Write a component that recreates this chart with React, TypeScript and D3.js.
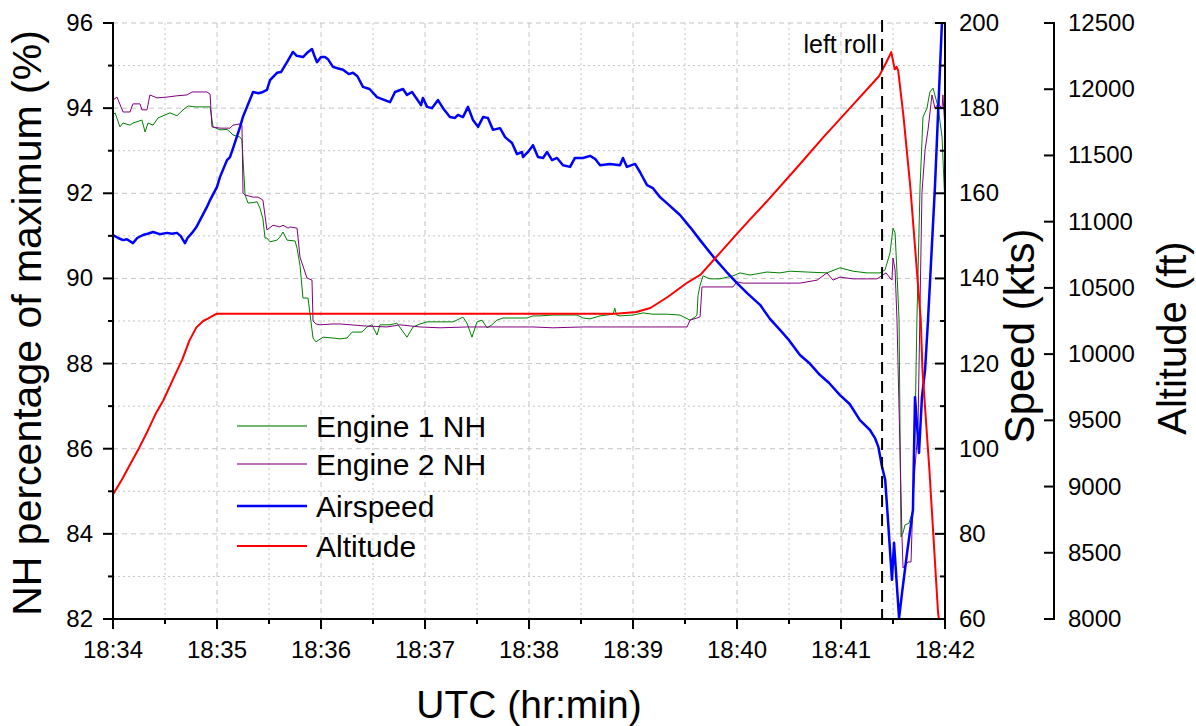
import React from "react";
import * as d3 from "d3";

// Time is in seconds after 18:34:00 UTC
const engine1NH: [number, number][] = [
  [0, 93.84], [1.2, 93.89], [4, 93.56], [5.8, 93.65], [9.8, 93.6], [11.5, 93.65], [16.7, 93.72],
  [18.5, 93.44], [20.2, 93.65], [23.1, 93.6], [26, 93.77], [30, 93.84], [32.9, 93.89], [36.9, 93.82],
  [40.4, 93.96], [43.3, 94.05], [47.3, 94.03], [50.2, 94.03], [54.2, 94.03], [56, 94.03], [57.7, 93.56],
  [61.7, 93.49], [65.8, 93.5], [67.5, 93.44], [69.2, 93.37], [73.3, 93.32], [74.4, 93.25], [76.2, 91.96],
  [77.9, 91.77], [80.8, 91.78], [83.1, 91.8], [84.8, 91.65], [86.5, 91.4], [87.7, 90.95], [88.8, 90.95],
  [90.6, 90.86], [94.6, 90.9], [96.3, 90.97], [98.1, 91.09], [100.4, 90.9], [105, 90.88], [106.2, 90.71],
  [107.9, 90.3], [109.6, 89.54], [112.5, 89.54], [115.4, 88.6], [117.1, 88.51], [121.2, 88.62],
  [126.9, 88.6], [131, 88.58], [135, 88.6], [137.9, 88.74], [143.6, 88.74], [146.5, 88.86], [149.4, 88.91],
  [152.3, 88.67], [154, 88.91], [159.8, 88.91], [163.8, 88.95], [169.6, 88.62], [173.1, 88.86],
  [177.1, 88.93], [181.2, 88.98], [188.7, 88.98], [196.2, 88.98], [201.9, 89.09], [204.2, 88.95],
  [207.1, 88.62], [210, 88.98], [212.9, 89.02], [215.8, 88.84], [218.6, 88.91], [221.5, 89.02],
  [225, 89.07], [230.8, 89.07], [238.8, 89.07], [242.3, 89.12], [246.3, 89.12], [253.8, 89.14],
  [261.9, 89.14], [267.7, 89.14], [271.2, 89.07], [275.2, 89.05], [281, 89.12], [288.5, 89.16],
  [289.5, 89.3], [290.5, 89.14], [292.5, 89.12], [300, 89.14], [305.8, 89.19], [311.5, 89.16], [319.6, 89.16],
  [327.1, 89.14], [332.9, 89.02], [335.8, 89.09], [336.9, 89.14], [337.5, 89.6], [338.7, 89.84],
  [340.4, 90.06], [344.4, 89.99], [350.2, 89.99], [357.7, 90.06], [361.7, 90.13], [367.5, 90.08],
  [377.3, 90.15], [384.8, 90.13], [390.6, 90.17], [400.4, 90.15], [411.9, 90.13], [419.4, 90.25],
  [426.9, 90.17], [435, 90.13], [442.5, 90.13], [445.4, 90.2], [448.3, 90.6], [450, 91.18],
  [451.2, 91.07], [452.3, 90.13], [453.5, 89.02], [454.6, 83.93], [455.8, 84.02], [456.9, 84.21],
  [459.2, 84.25], [461.5, 84.56], [462.7, 86.44], [463.8, 89.02], [465.6, 92.15], [467.3, 93.79],
  [469.6, 94.0], [471.3, 94.38], [473.1, 94.47], [476, 94.03], [478.3, 93.32], [480, 91.7],
];

const engine2NH: [number, number][] = [
  [0, 94.19], [2.3, 94.26], [5.8, 93.91], [9.8, 93.91], [11.5, 94.1], [15.6, 94.1], [16.7, 93.96],
  [19.6, 93.96], [21.3, 94.31], [25.4, 94.24], [31.2, 94.26], [36.9, 94.29], [42.7, 94.31],
  [45.6, 94.38], [50.2, 94.38], [54.2, 94.38], [56, 94.33], [57.1, 93.56], [61.7, 93.53], [67.5, 93.53],
  [69.2, 93.6], [73.3, 93.63], [74.4, 93.6], [75, 92.01], [76.2, 91.96], [80.8, 91.91], [83.7, 91.91],
  [86.5, 91.84], [88.8, 91.14], [92.3, 91.25], [96.3, 91.21], [98.1, 91.25], [101, 91.18],
  [102.1, 91.21], [106.2, 91.18], [107.9, 90.5], [111.9, 90.01], [114.8, 89.96], [115.4, 89.0],
  [117.1, 88.93], [119.4, 88.91], [126.9, 88.93], [131, 88.93], [146.5, 88.88], [158.1, 88.86],
  [165.6, 88.91], [177.1, 88.86], [188.7, 88.84], [204.2, 88.86], [215.8, 88.86], [230.8, 88.86],
  [242.3, 88.86], [253.8, 88.84], [271.2, 88.86], [290.8, 88.86], [300, 88.86], [319.6, 88.86],
  [331.2, 88.86], [332.9, 89.02], [336.9, 89.07], [338.7, 89.1], [339.8, 89.8], [342.7, 89.8],
  [357.7, 89.8], [360, 89.92], [363.5, 89.89], [377.3, 89.89], [396.3, 89.89], [406.2, 89.96],
  [411.9, 90.13], [415.4, 89.96], [419.4, 90.03], [426.9, 89.99], [440.8, 89.99], [446, 90.13],
  [448.3, 90.01], [449.4, 89.96], [450, 90.48], [451.2, 90.2], [452.3, 89.02], [454.6, 85.0],
  [455.2, 83.9], [455.8, 83.2], [458.7, 83.34], [460.4, 83.34], [461.5, 84.79], [462.7, 85.57],
  [464.4, 86.44], [466.7, 92.01], [468.5, 93.02], [470.2, 93.49], [472.5, 94.31], [474.2, 94.0],
  [476, 94.1], [478.3, 94.0], [478.8, 94.31], [480, 93.5],
];

const airspeed: [number, number][] = [
  [0, 150.2], [3, 149.5], [5.8, 149.0], [8, 149.2], [11.5, 148.3], [14, 149.5], [17.3, 150.2],
  [20, 150.5], [23.1, 150.9], [27, 150.4], [31.2, 150.7], [34, 150.5], [36.9, 150.7], [39, 150.0],
  [41.5, 148.3], [43, 149.5], [45.6, 150.7], [48, 152], [50.2, 153.7], [54.2, 156.8], [56, 158.4],
  [60, 161.5], [61.7, 163.8], [65.8, 167.8], [67.5, 168.5], [70, 171.5], [73.3, 175.6], [75, 178],
  [77.3, 180.3], [80.8, 183.8], [84, 183.5], [86.5, 183.8], [88.8, 184.3], [90.6, 186.6],
  [94.6, 188.3], [97, 188.5], [100.4, 190.8], [103.8, 193.2], [106, 192.3], [109.6, 192.0],
  [112, 193.0], [114.8, 193.9], [116, 192.5], [117.7, 190.8], [120, 192], [122.3, 192.0],
  [124, 191.5], [126.9, 189.7], [130, 189.3], [132.7, 189.0], [136, 188.0], [138.5, 188.3],
  [141, 187.5], [144.2, 185.0], [148, 184.5], [152.3, 182.6], [156, 182.0], [159.8, 181.4],
  [162.7, 183.8], [167.3, 184.5], [169.6, 183.1], [172.5, 183.8], [175.4, 182.1], [177.7, 180.7],
  [178.8, 182.4], [181.2, 180.3], [184, 180.0], [187.5, 181.9], [190.4, 180.0], [194.4, 177.9],
  [197.3, 177.7], [199, 178.4], [201.9, 177.9], [204.8, 180.3], [207.7, 177.2], [210.6, 175.6],
  [213.5, 177.9], [216.3, 177.7], [219.2, 174.9], [223.3, 175.3], [226.2, 173.2], [230.2, 171.8],
  [233.1, 169.2], [236, 169.7], [236.5, 168.5], [239.4, 169.7], [242.3, 171.3], [245.2, 168.5],
  [248.1, 168.3], [250.4, 169.7], [253.3, 167.8], [256.2, 168.3], [259.6, 166.6], [263.7, 166.2],
  [266.5, 168.3], [271.2, 168.3], [275.2, 168.8], [278.1, 168.1], [281, 166.6], [286.7, 166.9],
  [292.5, 166.6], [294.2, 168.3], [296.5, 166.2], [301.2, 166.9], [304, 165.0], [308.1, 161.9],
  [311.5, 161.2], [315.6, 159.1], [320, 157.5], [327.1, 154.9], [333, 152], [338.7, 149.0],
  [347.3, 144.6], [354, 141.5], [360, 138.9], [366, 136.5], [373.3, 133.8], [379, 130.5],
  [384.8, 127.9], [390, 125.5], [396.3, 122.0], [402, 120.0], [407.9, 117.3], [413, 115.5],
  [419.4, 112.6], [425, 110.5], [430.9, 106.7], [436.7, 104.4], [439.6, 102.5], [441.5, 100.5],
  [443.7, 95.7], [445.5, 92.7], [447.1, 83.3], [449.4, 69.2], [450.6, 77.9], [452.3, 67.5],
  [453.5, 60.2], [455.2, 66.1], [458.1, 75.5], [461.5, 85.6], [462.7, 112.1], [465, 99.0],
  [466.7, 112.1], [468.5, 118.5], [470.2, 130.2], [474.2, 161.5], [478.3, 200.7], [480, 206],
];

const altitude: [number, number][] = [
  [0, 8940], [5, 9050], [10, 9170], [15, 9290], [20, 9420], [25, 9560], [29, 9650], [35, 9820],
  [40, 9960], [44, 10100], [48, 10200], [52, 10250], [55, 10270], [57, 10285], [59, 10300],
  [60, 10305], [200, 10305], [290, 10305], [302, 10318], [310, 10348], [320, 10431], [331, 10537],
  [339, 10600], [347, 10718], [358, 10880], [367, 11010], [377, 11150], [396, 11430], [410, 11640],
  [425, 11855], [442, 12100], [446, 12200], [449, 12280], [451, 12150], [452, 12170], [453, 12140],
  [456, 11800], [460, 11260], [466, 10260], [467, 9880], [471, 9125], [476, 8045], [476.5, 8000],
];

const timeTickLabels = ["18:34", "18:35", "18:36", "18:37", "18:38", "18:39", "18:40", "18:41", "18:42"];
const nhTicks = [82, 84, 86, 88, 90, 92, 94, 96];
const speedTicks = [60, 80, 100, 120, 140, 160, 180, 200];
const altitudeTicks = [8000, 8500, 9000, 9500, 10000, 10500, 11000, 11500, 12000, 12500];
const leftRollTime = 443.7;

const seriesInfo = [
  { name: "Engine 1 NH", color: "#008000", width: 1 },
  { name: "Engine 2 NH", color: "#800080", width: 1 },
  { name: "Airspeed", color: "#0000ff", width: 2.5 },
  { name: "Altitude", color: "#ff0000", width: 2 },
];

const W = 1196;
const H = 726;
const left = 113;
const right = 945;
const top = 23;
const bottom = 619;
const altAxisX = 1054;
const FONT = "Arial, 'Liberation Sans', sans-serif";

export default function App() {
  const x = d3.scaleLinear().domain([0, 480]).range([left, right]);
  const yNH = d3.scaleLinear().domain([82, 96]).range([bottom, top]);
  const ySpd = d3.scaleLinear().domain([60, 200]).range([bottom, top]);
  const yAlt = d3.scaleLinear().domain([8000, 12500]).range([bottom, top]);

  const lineNH = d3.line<[number, number]>().x((d) => x(d[0])).y((d) => yNH(d[1]));
  const lineSpd = d3.line<[number, number]>().x((d) => x(d[0])).y((d) => ySpd(d[1]));
  const lineAlt = d3.line<[number, number]>().x((d) => x(d[0])).y((d) => yAlt(d[1]));

  const gridY = d3.range(82, 97, 1);
  const gridX = d3.range(0, 481, 30);

  const legendRows = [426, 464, 506, 546];

  return (
    <svg
      width={W}
      height={H}
      style={{ position: "absolute", left: 0, top: 0, background: "#fff" }}
      fontFamily={FONT}
    >
      <defs>
        <clipPath id="plotClip">
          <rect x={left} y={top - 1} width={right - left} height={bottom - top + 1} />
        </clipPath>
      </defs>

      {/* grid */}
      {gridY.map((v) =>
        v === 82 ? null : (
          <line
            key={"gy" + v}
            x1={left}
            x2={right}
            y1={yNH(v)}
            y2={yNH(v)}
            stroke="#c4c4c4"
            strokeWidth={1}
            strokeDasharray={v % 2 === 0 ? "5,4" : "2,3"}
          />
        )
      )}
      {gridX.map((t) =>
        t === 0 || t === 480 ? null : (
          <line
            key={"gx" + t}
            x1={x(t)}
            x2={x(t)}
            y1={top}
            y2={bottom}
            stroke="#c4c4c4"
            strokeWidth={1}
            strokeDasharray={t % 60 === 0 ? "5,4" : "2,3"}
          />
        )
      )}

      {/* series */}
      <g clipPath="url(#plotClip)" fill="none" strokeLinejoin="round">
        <path d={lineNH(engine1NH) ?? ""} stroke={seriesInfo[0].color} strokeWidth={seriesInfo[0].width} />
        <path d={lineNH(engine2NH) ?? ""} stroke={seriesInfo[1].color} strokeWidth={seriesInfo[1].width} />
        <path d={lineSpd(airspeed) ?? ""} stroke={seriesInfo[2].color} strokeWidth={seriesInfo[2].width} />
        <path d={lineAlt(altitude) ?? ""} stroke={seriesInfo[3].color} strokeWidth={seriesInfo[3].width} />
      </g>

      {/* left roll marker */}
      <line
        x1={x(leftRollTime)}
        x2={x(leftRollTime)}
        y1={20}
        y2={bottom}
        stroke="#000"
        strokeWidth={2}
        strokeDasharray="12,7"
      />
      <text x={x(leftRollTime) - 5} y={53} fontSize={25} textAnchor="end" fill="#000">
        left roll
      </text>

      {/* left axis */}
      <line x1={left} x2={left} y1={top - 1} y2={bottom + 1} stroke="#000" strokeWidth={2} />
      {gridY.map((v) => (
        <line
          key={"lt" + v}
          x1={left - (v % 2 === 0 ? 10 : 5)}
          x2={left}
          y1={yNH(v)}
          y2={yNH(v)}
          stroke="#000"
          strokeWidth={2}
        />
      ))}
      {nhTicks.map((v) => (
        <text key={"ll" + v} x={93} y={yNH(v) + 8} fontSize={24} textAnchor="end" fill="#000">
          {v}
        </text>
      ))}

      {/* bottom axis */}
      <line x1={left - 1} x2={right + 1} y1={bottom} y2={bottom} stroke="#000" strokeWidth={2} />
      {gridX.map((t) => (
        <line
          key={"bt" + t}
          x1={x(t)}
          x2={x(t)}
          y1={bottom}
          y2={bottom + (t % 60 === 0 ? 10 : 5)}
          stroke="#000"
          strokeWidth={2}
        />
      ))}
      {timeTickLabels.map((lab, i) => (
        <text key={"bl" + lab} x={x(i * 60)} y={658} fontSize={24} textAnchor="middle" fill="#000">
          {lab}
        </text>
      ))}

      {/* speed axis */}
      <line x1={right} x2={right} y1={top - 1} y2={bottom + 1} stroke="#000" strokeWidth={2} />
      {d3.range(60, 201, 10).map((v) => (
        <line
          key={"st" + v}
          x1={right - (v % 20 === 0 ? 10 : 5)}
          x2={right}
          y1={ySpd(v)}
          y2={ySpd(v)}
          stroke="#000"
          strokeWidth={2}
        />
      ))}
      {speedTicks.map((v) => (
        <text key={"sl" + v} x={959} y={ySpd(v) + 8} fontSize={24} textAnchor="start" fill="#000">
          {v}
        </text>
      ))}

      {/* altitude axis */}
      <line x1={altAxisX} x2={altAxisX} y1={top - 1} y2={bottom + 1} stroke="#000" strokeWidth={2} />
      {altitudeTicks.map((v) => (
        <line
          key={"at" + v}
          x1={altAxisX - 10}
          x2={altAxisX}
          y1={yAlt(v)}
          y2={yAlt(v)}
          stroke="#000"
          strokeWidth={2}
        />
      ))}
      {altitudeTicks.map((v) => (
        <text key={"al" + v} x={1068} y={yAlt(v) + 8} fontSize={24} textAnchor="start" fill="#000">
          {v}
        </text>
      ))}

      {/* axis titles */}
      <text
        transform={`translate(41, 323) rotate(-90)`}
        fontSize={41}
        textAnchor="middle"
        fill="#000"
      >
        NH percentage of maximum (%)
      </text>
      <text x={529} y={718} fontSize={39} textAnchor="middle" fill="#000">
        UTC (hr:min)
      </text>
      <text
        transform={`translate(1034, 336) rotate(-90)`}
        fontSize={42}
        textAnchor="middle"
        fill="#000"
      >
        Speed (kts)
      </text>
      <text
        transform={`translate(1186, 338) rotate(-90)`}
        fontSize={40}
        textAnchor="middle"
        fill="#000"
      >
        Altitude (ft)
      </text>

      {/* legend */}
      {seriesInfo.map((s, i) => (
        <g key={"lg" + s.name}>
          <line
            x1={237}
            x2={307}
            y1={legendRows[i]}
            y2={legendRows[i]}
            stroke={s.color}
            strokeWidth={s.width < 2 ? 1.3 : s.width}
            strokeOpacity={s.width < 2 ? 0.75 : 1}
          />
          <text x={316} y={legendRows[i] + 11} fontSize={30} fill="#000">
            {s.name}
          </text>
        </g>
      ))}
    </svg>
  );
}
